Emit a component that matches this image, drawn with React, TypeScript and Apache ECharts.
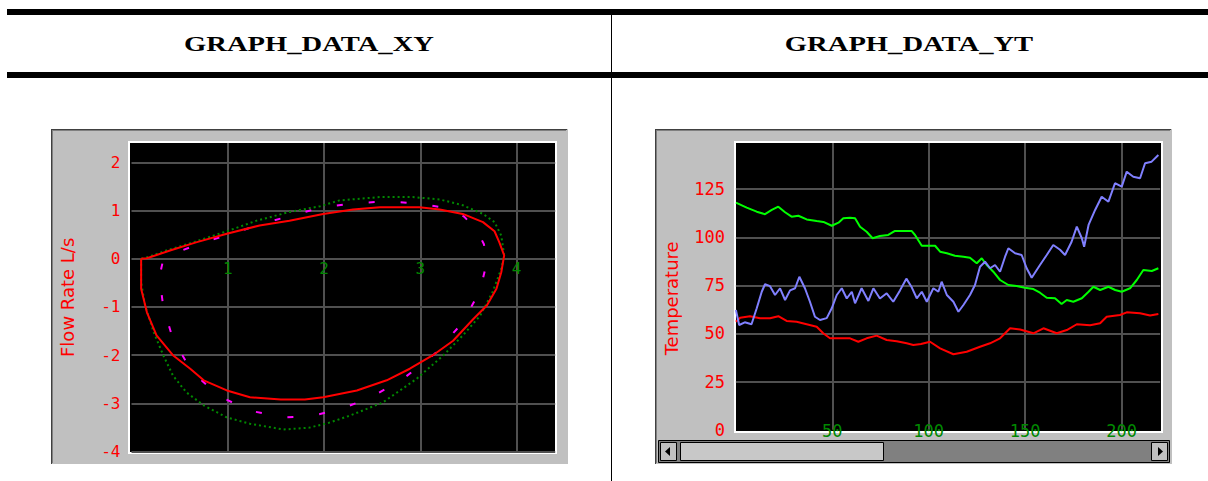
import React, { useEffect, useRef } from "react";
import * as echarts from "echarts";

// ---- Data: GRAPH_DATA_XY (closed curves, [x, y]) ----
const xyRed: [number, number][] = [
  [0.10, 0], [0.10, -0.62], [0.16, -1.11], [0.26, -1.59], [0.43, -2.0], [0.61, -2.28], [0.75, -2.52],
  [0.99, -2.73], [1.23, -2.87], [1.55, -2.92], [1.80, -2.92], [1.99, -2.87], [2.34, -2.73], [2.65, -2.52],
  [2.89, -2.28], [3.13, -2.0], [3.34, -1.70], [3.55, -1.25], [3.69, -0.97], [3.79, -0.62], [3.84, -0.28],
  [3.87, 0.07], [3.82, 0.34], [3.77, 0.57], [3.65, 0.76], [3.44, 0.93], [3.20, 1.02], [2.99, 1.07],
  [2.58, 1.07], [2.30, 1.02], [1.99, 0.93], [1.64, 0.79], [1.33, 0.69], [0.99, 0.52], [0.67, 0.34],
  [0.40, 0.17], [0.16, 0.01], [0.10, 0],
];
const xyMagenta: [number, number][] = [
  [0.32, -0.1], [0.29, -0.38], [0.33, -1.0], [0.43, -1.66], [0.62, -2.32], [0.90, -2.84], [1.23, -3.15],
  [1.59, -3.29], [1.87, -3.26], [2.18, -3.11], [2.49, -2.87], [2.82, -2.49], [3.15, -1.97], [3.44, -1.32],
  [3.62, -0.66], [3.69, -0.07], [3.66, 0.30], [3.58, 0.62], [3.45, 0.88], [3.27, 1.05], [2.96, 1.15],
  [2.65, 1.19], [2.32, 1.15], [1.99, 1.07], [1.68, 0.91], [1.37, 0.73], [1.04, 0.52], [0.73, 0.33],
  [0.40, 0.08], [0.32, -0.1],
];
const xyGreen: [number, number][] = [
  [0.10, 0], [0.10, -0.49], [0.14, -0.96], [0.23, -1.52], [0.33, -2.0], [0.43, -2.42], [0.57, -2.77],
  [0.75, -3.04], [0.99, -3.29], [1.23, -3.42], [1.58, -3.54], [1.85, -3.50], [2.05, -3.40], [2.27, -3.25],
  [2.61, -2.98], [2.96, -2.49], [3.24, -2.0], [3.44, -1.59], [3.62, -1.18], [3.75, -0.69], [3.84, -0.21],
  [3.87, 0.07], [3.84, 0.48], [3.77, 0.76], [3.65, 0.93], [3.44, 1.11], [3.20, 1.23], [2.92, 1.28],
  [2.58, 1.28], [2.16, 1.21], [1.96, 1.09], [1.64, 0.97], [1.30, 0.79], [0.99, 0.57], [0.64, 0.34],
  [0.36, 0.17], [0.16, 0.03], [0.10, 0],
];

// ---- Data: GRAPH_DATA_YT ([t, temperature]) ----
const ytGreen: [number, number][] = [
  [0, 118], [5.6, 115.4], [10.8, 113.3], [15.1, 112], [18.6, 114.2], [22, 115.9], [25.5, 113], [28.9, 110.7],
  [32.4, 111.2], [36.7, 109.3], [41.9, 108.5], [45.4, 108], [49.7, 106], [53.2, 107.6], [55.7, 109.9],
  [59.2, 110.2], [61.8, 109.9], [64.4, 105.5], [67.8, 102.9], [70.9, 99.5], [74.7, 100.7], [79, 101.2],
  [82.5, 103.3], [86.8, 103.3], [91.1, 103.3], [92.9, 101.2], [96.4, 95.6], [103.3, 95.6], [105.9, 92.5],
  [109.4, 91.7], [113.6, 90.4], [118, 89.9], [121.4, 89.4], [124.9, 86.5], [127.5, 89.1], [130.1, 85.6],
  [133.5, 82.1], [137, 77.8], [141.3, 75.2], [145.6, 74.7], [149.9, 73.8], [154.3, 73.1], [157.7, 71.2],
  [161.2, 68.6], [165.5, 68.3], [168.9, 65.3], [171.6, 67.4], [175, 66.5], [179.4, 68.3], [182.9, 71.7],
  [185.4, 74.3], [188.9, 72.6], [193.2, 74.3], [196.7, 72.6], [200.1, 71.7], [204.4, 73.5], [207.9, 77.8],
  [211.3, 83], [215.7, 82.5], [219.1, 83.9],
];
const ytRed: [number, number][] = [
  [0, 56.1], [2.2, 58.2], [7.3, 59], [12.5, 57.9], [17.7, 57.9], [22, 59], [26.3, 56.5], [31.5, 56.1],
  [36.7, 54.8], [41.9, 53.5], [45.3, 50.1], [48.8, 47.5], [54, 47.5], [59.2, 47.5], [63.5, 45.7],
  [67.8, 47.5], [73, 48.9], [78.2, 46.6], [83.4, 46], [88.6, 44.9], [92, 44], [96, 44.5], [100.7, 45.7],
  [105.9, 42.3], [112.8, 39.2], [119.7, 40.5], [126.6, 43.1], [131.8, 44.9], [137, 47.5], [142.2, 52.7],
  [147.4, 52.1], [154.3, 50.1], [159.5, 52.7], [166.4, 50.1], [171.6, 51.8], [176.8, 54.8], [183.7, 54.3],
  [188.9, 55.3], [192.3, 58.7], [199.2, 59.6], [202.7, 61], [209.6, 60.5], [214.8, 59.3], [219.1, 60.1],
];
const ytBlue: [number, number][] = [
  [0, 62.2], [1.7, 54.4], [4.6, 55.8], [8.1, 54.8], [10.8, 63.1], [13.4, 71.7], [15.1, 75.6], [17.7, 74.6],
  [20.3, 70], [22.9, 73.5], [25.5, 67.4], [28.1, 72.4], [30.7, 73.5], [32.9, 79.5], [35.8, 73.5],
  [38.4, 66.5], [41, 58.7], [43.6, 57], [47.1, 58], [49.7, 63.1], [52.3, 70], [54.9, 73.5], [57.5, 68.2],
  [60.1, 71.7], [61.8, 65.7], [65.2, 73.5], [68.7, 66.9], [71.3, 73.5], [74.7, 68.2], [78.2, 70.9],
  [81.6, 66.5], [85.1, 72.4], [88.4, 78.5], [91.2, 74], [93.8, 68.3], [96.4, 71.7], [99, 66.5],
  [102.4, 73.5], [105, 71.7], [106.7, 76.9], [109.4, 70], [112.8, 66.5], [115.4, 61.3], [118, 64.8],
  [121.4, 70], [124, 75.2], [126.6, 84.7], [129.2, 87.3], [131.8, 83.9], [134.4, 85.6], [137, 82.1],
  [139.6, 89.9], [141.3, 94.3], [144.8, 91.7], [148.2, 90.8], [150.8, 83.9], [153.4, 79], [157.7, 85.6],
  [161.2, 90.8], [164.6, 96], [168.1, 93.5], [170.7, 90.8], [174.1, 97.7], [176.8, 105.5], [179.4, 99.5],
  [180.6, 95.1], [182.9, 106.4], [186.3, 114.2], [189.7, 121.1], [193.2, 118.5], [196.6, 128.1],
  [200.1, 126.3], [202.7, 134.1], [206.1, 131.5], [209.6, 130.7], [212.2, 138.5], [215.6, 139.3],
  [219.1, 142.8],
];

const titles = ["GRAPH_DATA_XY", "GRAPH_DATA_YT"];
const yNames = ["Flow Rate L/s", "Temperature"];

const MONO = "'DejaVu Sans Mono', monospace";
const SANS = "'DejaVu Sans', sans-serif";
const GRID_LINE = { color: "#505050", width: 2 };

// left plot geometry
const XY_TOP = 143;
const XY_H = 308.7;
const XY_MIN = -4;
const XY_MAX = 2.4;

export default function App() {
  const ref = useRef<HTMLDivElement>(null);
  useEffect(() => {
    document.body.style.margin = "0";
    const chart = echarts.init(ref.current!, undefined, { renderer: "svg" });

    const bg = (shape: any, fill: string, z = -100, stroke?: string) => ({
      type: "rect",
      shape,
      z,
      silent: true,
      style: stroke ? { fill, stroke, lineWidth: 1 } : { fill },
    });
    const ln = (x1: number, y1: number, x2: number, y2: number, stroke: string, w = 1) => ({
      type: "line",
      z: -90,
      silent: true,
      shape: { x1, y1, x2, y2 },
      style: { stroke, lineWidth: w },
    });
    const frame = (x: number) => [
      bg({ x, y: 129, width: 517, height: 335 }, "#c0c0c0"),
      ln(x, 129.5, x + 516, 129.5, "#404040"),
      ln(x + 1, 130.5, x + 515, 130.5, "#808080"),
      ln(x + 0.5, 129, x + 0.5, 464, "#404040"),
      ln(x + 1.5, 130, x + 1.5, 463, "#808080"),
    ];
    const titleText = (x: number, text: string) => ({
      type: "text",
      x,
      y: 44,
      scaleX: 1.3,
      z: 10,
      style: { text, x: 0, y: 0, align: "center", verticalAlign: "middle", font: "bold 22px 'Liberation Serif', serif", fill: "#000" },
    });

    // shift of the x axis from the bottom edge to the y = 0 line
    const zeroOffset = -(XY_H * (0 - XY_MIN)) / (XY_MAX - XY_MIN);

    const option: any = {
      animation: false,
      graphic: [
        bg({ x: 7, y: 9, width: 1201, height: 6 }, "#000", 10),
        bg({ x: 7, y: 72, width: 1201, height: 6 }, "#000", 10),
        { ...ln(611.5, 15, 611.5, 481, "#000"), z: 10 },
        titleText(309, titles[0]),
        titleText(909, titles[1]),
        ...frame(51),
        ...frame(655),
        bg({ x: 128, y: 141, width: 429, height: 313 }, "#fff", -80),
        bg({ x: 130, y: 143, width: 425, height: 309 }, "#000", -70),
        bg({ x: 734, y: 141, width: 429, height: 292 }, "#fff", -80),
        bg({ x: 736, y: 143, width: 425, height: 288 }, "#000", -70),
        // scrollbar
        bg({ x: 658.5, y: 440.5, width: 511, height: 22 }, "#808080", -60, "#000"),
        bg({ x: 660.5, y: 442.5, width: 16, height: 18 }, "#c0c0c0", -50, "#000"),
        bg({ x: 680.5, y: 442.5, width: 203, height: 18 }, "#c8c8c8", -50, "#000"),
        bg({ x: 1151.5, y: 442.5, width: 16, height: 18 }, "#c0c0c0", -50, "#000"),
        { type: "polygon", z: -40, silent: true, shape: { points: [[670, 447], [670, 456], [665, 451.5]] }, style: { fill: "#000" } },
        { type: "polygon", z: -40, silent: true, shape: { points: [[1158, 447], [1158, 456], [1163, 451.5]] }, style: { fill: "#000" } },
      ],
      grid: [
        { left: 131.5, top: XY_TOP, width: 423.7, height: XY_H, containLabel: false },
        { left: 735.9, top: 143, width: 424.2, height: 286.7, containLabel: false },
      ],
      xAxis: [
        {
          gridIndex: 0,
          type: "value",
          min: 0,
          max: 4.4,
          interval: 1,
          offset: zeroOffset,
          axisLine: { show: false, onZero: false },
          axisTick: { show: false },
          axisLabel: { color: "#008800", fontFamily: MONO, fontSize: 16, margin: 2, showMinLabel: false, showMaxLabel: false },
          splitLine: { show: true, lineStyle: GRID_LINE, showMinLine: false, showMaxLine: false },
        },
        {
          gridIndex: 1,
          type: "value",
          min: 0,
          max: 220,
          interval: 50,
          axisLine: { show: false },
          axisTick: { show: false },
          axisLabel: { color: "#008800", fontFamily: MONO, fontSize: 17, margin: 1, verticalAlign: "middle", showMinLabel: false, showMaxLabel: false },
          splitLine: { show: true, lineStyle: GRID_LINE, showMinLine: false, showMaxLine: false },
        },
      ],
      yAxis: [
        {
          gridIndex: 0,
          type: "value",
          min: XY_MIN,
          max: XY_MAX,
          interval: 1,
          name: yNames[0],
          nameLocation: "middle",
          nameGap: 55,
          nameTextStyle: { color: "#ff0000", fontFamily: SANS, fontSize: 18 },
          axisLine: { show: false, onZero: false },
          axisTick: { show: false },
          axisLabel: { color: "#ff0000", fontFamily: MONO, fontSize: 16, margin: 11, showMaxLabel: false },
          splitLine: { show: true, lineStyle: GRID_LINE, showMaxLine: false },
        },
        {
          gridIndex: 1,
          type: "value",
          min: 0,
          max: 149,
          interval: 25,
          name: yNames[1],
          nameLocation: "middle",
          nameGap: 55,
          nameTextStyle: { color: "#ff0000", fontFamily: SANS, fontSize: 18, padding: [0, 24, 0, 0] },
          axisLine: { show: false },
          axisTick: { show: false },
          axisLabel: { color: "#ff0000", fontFamily: MONO, fontSize: 17, margin: 11, showMaxLabel: false },
          splitLine: { show: true, lineStyle: GRID_LINE, showMinLine: false, showMaxLine: false },
        },
      ],
      series: [
        { type: "line", xAxisIndex: 0, yAxisIndex: 0, data: xyGreen, symbol: "none", lineStyle: { color: "#008800", width: 2, type: [2, 3] } },
        { type: "line", xAxisIndex: 0, yAxisIndex: 0, data: xyMagenta, symbol: "none", lineStyle: { color: "#ff00ff", width: 2, type: [6, 26] } },
        { type: "line", xAxisIndex: 0, yAxisIndex: 0, data: xyRed, symbol: "none", lineStyle: { color: "#ff0000", width: 2 } },
        { type: "line", xAxisIndex: 1, yAxisIndex: 1, data: ytGreen, symbol: "none", lineStyle: { color: "#00ff00", width: 2 } },
        { type: "line", xAxisIndex: 1, yAxisIndex: 1, data: ytRed, symbol: "none", lineStyle: { color: "#ff0000", width: 2 } },
        { type: "line", xAxisIndex: 1, yAxisIndex: 1, data: ytBlue, symbol: "none", lineStyle: { color: "#8080ff", width: 2 } },
      ],
    };
    chart.setOption(option);
    return () => chart.dispose();
  }, []);
  return <div ref={ref} style={{ position: "absolute", left: 0, top: 0, width: 1208, height: 481 }} />;
}
